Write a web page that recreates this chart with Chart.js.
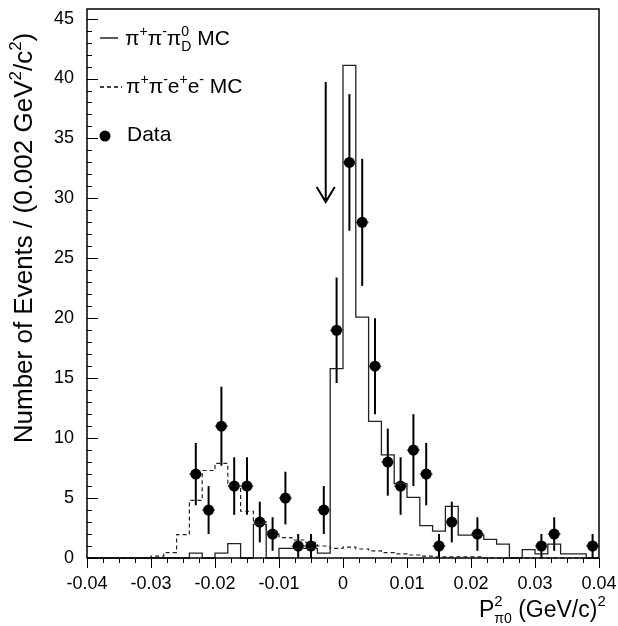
<!DOCTYPE html>
<html>
<head>
<meta charset="utf-8">
<script src="https://cdn.jsdelivr.net/npm/chart.js@4.4.0/dist/chart.umd.min.js"></script>
<style>
  html, body { margin: 0; padding: 0; background: #fff; }
  canvas { display: block; }
</style>
</head>
<body>
<canvas id="chart" width="618" height="626"></canvas>
<script>
/* ============================================================
   DATA
============================================================ */
const xMin = -0.04;
const xMax = 0.04;
const binWidth = 0.002;

// pi+ pi- pi0_D MC (solid), 40 bins of 0.002 starting at -0.04
const mcDalitz = [
  0, 0, 0, 0, 0, 0, 0, 0, 0.4, 0,
  0.4, 1.2, 0, 2.8, 0, 0.8, 0.8, 0.8, 0.4, 15.8,
  41.1, 20.1, 11.4, 8.6, 6.2, 5.05, 2.7, 2.25, 4.3, 1.9,
  1.9, 1.55, 1.15, 0, 0.7, 0.35, 1.15, 0.35, 0.35, 0,
];

// pi+ pi- e+ e- MC (dashed)
const mcEE = [
  0, 0, 0, 0, 0, 0.15, 0.45, 1.95, 4.8, 7.3,
  7.9, 6.0, 3.9, 3.0, 2.2, 1.7, 1.5, 1.3, 1.0, 0.8,
  0.9, 0.75, 0.6, 0.45, 0.35, 0.25, 0.15, 0.1, 0.1, 0.1,
  0.1, 0, 0, 0, 0, 0, 0, 0, 0, 0,
];

// data points
const dataX = [
  -0.023, -0.021, -0.019, -0.017, -0.015, -0.013, -0.011, -0.009, -0.007, -0.005,
  -0.003, -0.001, 0.001, 0.003, 0.005, 0.007, 0.009, 0.011, 0.013, 0.015,
  0.017, 0.021, 0.031, 0.033, 0.039,
];
const dataY = [7, 4, 11, 6, 6, 3, 2, 5, 1, 1, 4, 19, 33, 28, 16, 8, 6, 9, 7, 1, 3, 2, 1, 2, 1];
const dataErr = [
  2.6, 2.0, 3.3, 2.4, 2.4, 1.7, 1.4, 2.2, 1.0, 1.0,
  2.0, 4.4, 5.7, 5.3, 4.0, 2.8, 2.4, 3.0, 2.6, 1.0,
  1.7, 1.4, 1.0, 1.4, 1.0,
];

// cut arrow
const arrowX = -0.0027;
const arrowTop = 39.7;
const arrowTip = 29.7;

const yMax = 45.8;
const FONT = '"Liberation Sans", Arial, Helvetica, sans-serif';

/* ============================================================
   HELPERS
============================================================ */
const histPoints = (vals) => {
  const pts = vals.map((v, i) => ({ x: xMin + i * binWidth, y: v }));
  pts.push({ x: xMin + vals.length * binWidth, y: vals[vals.length - 1] });
  return pts;
};

// text pieces: {t, s (size), dy, keep (stacked with next piece)}
function richWidth(ctx, parts) {
  let w = 0, held = 0;
  parts.forEach((p) => {
    ctx.font = `${p.s}px ${FONT}`;
    const pw = ctx.measureText(p.t).width;
    if (p.keep) { held = Math.max(held, pw); return; }
    w += Math.max(pw, held);
    held = 0;
  });
  return w + held;
}
function drawRich(ctx, x, y, parts) {
  let held = 0;
  parts.forEach((p) => {
    ctx.font = `${p.s}px ${FONT}`;
    ctx.fillText(p.t, x, y + (p.dy || 0));
    const pw = ctx.measureText(p.t).width;
    if (p.keep) { held = Math.max(held, pw); return; }
    x += Math.max(pw, held);
    held = 0;
  });
}

/* ============================================================
   PLUGIN: frame, ticks, error bars, arrow, legend, titles
============================================================ */
const decorations = {
  id: "decorations",
  beforeDatasetsDraw(chart) {
    const { ctx, scales: { x, y } } = chart;
    ctx.save();
    ctx.strokeStyle = "#000";
    dataX.forEach((vx, i) => {
      const px = x.getPixelForValue(vx);
      ctx.lineWidth = 2;
      ctx.beginPath();
      ctx.moveTo(px, y.getPixelForValue(Math.max(0, dataY[i] - dataErr[i])));
      ctx.lineTo(px, y.getPixelForValue(dataY[i] + dataErr[i]));
      ctx.stroke();
      ctx.lineWidth = 1;
      ctx.beginPath();
      ctx.moveTo(x.getPixelForValue(vx - binWidth / 2), y.getPixelForValue(dataY[i]));
      ctx.lineTo(x.getPixelForValue(vx + binWidth / 2), y.getPixelForValue(dataY[i]));
      ctx.stroke();
    });
    ctx.restore();
  },
  afterDraw(chart) {
    const { ctx, chartArea: a, scales: { x, y } } = chart;
    ctx.save();
    ctx.strokeStyle = "#000";
    ctx.fillStyle = "#000";

    // frame
    ctx.lineWidth = 1.5;
    ctx.strokeRect(a.left, a.top, a.right - a.left, a.bottom - a.top);

    // x ticks (hanging below the axis)
    ctx.lineWidth = 1;
    for (let k = 0; k <= 32; k++) {
      const v = xMin + k * 0.0025;
      const px = Math.round(x.getPixelForValue(v)) + 0.5;
      const len = k % 4 === 0 ? 10 : 5;
      ctx.beginPath();
      ctx.moveTo(px, a.bottom);
      ctx.lineTo(px, a.bottom + len);
      ctx.stroke();
    }
    // y ticks (pointing inward)
    for (let v = 0; v <= 45; v++) {
      const py = Math.round(y.getPixelForValue(v)) + 0.5;
      const len = v % 5 === 0 ? 11 : 5;
      ctx.beginPath();
      ctx.moveTo(a.left, py);
      ctx.lineTo(a.left + len, py);
      ctx.stroke();
    }

    // arrow
    const ax = x.getPixelForValue(arrowX);
    const ay0 = y.getPixelForValue(arrowTop);
    const ay1 = y.getPixelForValue(arrowTip);
    ctx.lineWidth = 2;
    ctx.beginPath();
    ctx.moveTo(ax, ay0);
    ctx.lineTo(ax, ay1);
    ctx.moveTo(ax - 9, ay1 - 15);
    ctx.lineTo(ax, ay1);
    ctx.lineTo(ax + 9, ay1 - 15);
    ctx.stroke();

    // legend
    ctx.textAlign = "left";
    ctx.textBaseline = "alphabetic";
    ctx.lineWidth = 1.3;
    ctx.beginPath();
    ctx.moveTo(100, 38);
    ctx.lineTo(118, 38);
    ctx.stroke();
    drawRich(ctx, 125, 45, [
      { t: "π", s: 21 }, { t: "+", s: 14, dy: -9 },
      { t: "π", s: 21 }, { t: "-", s: 14, dy: -9 },
      { t: "π", s: 21 }, { t: "0", s: 14, dy: -9, keep: true }, { t: "D", s: 14, dy: 6 },
      { t: " MC", s: 21 },
    ]);

    ctx.setLineDash([4, 3]);
    ctx.beginPath();
    ctx.moveTo(100, 87);
    ctx.lineTo(122, 87);
    ctx.stroke();
    ctx.setLineDash([]);
    drawRich(ctx, 126, 93, [
      { t: "π", s: 21 }, { t: "+", s: 14, dy: -9 },
      { t: "π", s: 21 }, { t: "-", s: 14, dy: -9 },
      { t: "e", s: 21 }, { t: "+", s: 14, dy: -9 },
      { t: "e", s: 21 }, { t: "-", s: 14, dy: -9 },
      { t: " MC", s: 21 },
    ]);

    ctx.beginPath();
    ctx.arc(105, 136, 5.5, 0, Math.PI * 2);
    ctx.fill();
    drawRich(ctx, 127, 141, [{ t: "Data", s: 21 }]);

    // x title
    drawRich(ctx, 479, 617, [
      { t: "P", s: 23 }, { t: "2", s: 15, dy: -11, keep: true }, { t: "π0", s: 14, dy: 6 },
      { t: " (GeV/c)", s: 23 }, { t: "2", s: 15, dy: -11 },
    ]);

    // y title
    const yParts = [
      { t: "Number of Events / (0.002 GeV", s: 26 }, { t: "2", s: 17, dy: -11 },
      { t: "/c", s: 26 }, { t: "2", s: 17, dy: -11 }, { t: ")", s: 26 },
    ];
    const w = richWidth(ctx, yParts);
    ctx.translate(32, 238);
    ctx.rotate(-Math.PI / 2);
    drawRich(ctx, -w / 2, 0, yParts);

    ctx.restore();
  },
};

/* ============================================================
   CHART
============================================================ */
const tickFont = { family: FONT, size: 18 };

new Chart(document.getElementById("chart"), {
  type: "scatter",
  data: {
    datasets: [
      {
        type: "line",
        label: "pi+ pi- e+ e- MC",
        data: histPoints(mcEE),
        stepped: "before",
        borderColor: "#222",
        borderWidth: 1.2,
        borderDash: [4, 3],
        pointRadius: 0,
        fill: false,
        clip: false,
      },
      {
        type: "line",
        label: "pi+ pi- pi0_D MC",
        data: histPoints(mcDalitz),
        stepped: "before",
        borderColor: "#222",
        borderWidth: 1.3,
        pointRadius: 0,
        fill: false,
        clip: false,
      },
      {
        label: "Data",
        data: dataX.map((vx, i) => ({ x: vx, y: dataY[i] })),
        pointRadius: 5.5,
        pointBackgroundColor: "#000",
        pointBorderWidth: 0,
        clip: false,
      },
    ],
  },
  options: {
    responsive: false,
    animation: false,
    devicePixelRatio: 1,
    layout: { padding: { left: 0, top: 9, right: 19, bottom: 0 } },
    plugins: {
      legend: { display: false },
      tooltip: { enabled: false },
    },
    scales: {
      x: {
        type: "linear",
        min: xMin,
        max: xMax,
        grid: { display: false, drawTicks: false },
        border: { display: false },
        ticks: {
          stepSize: 0.01,
          includeBounds: false,
          padding: 15,
          color: "#000",
          font: tickFont,
          maxRotation: 0,
          autoSkip: false,
          callback: (v) => (Math.abs(v) < 1e-9 ? "0" : String(+v.toFixed(2))),
        },
        afterFit: (s) => {
          s.height = 68;
          s.paddingLeft = 0;
          s.paddingRight = 0;
        },
      },
      y: {
        type: "linear",
        min: 0,
        max: yMax,
        grid: { display: false, drawTicks: false },
        border: { display: false },
        ticks: {
          stepSize: 5,
          includeBounds: false,
          padding: 13,
          color: "#000",
          font: tickFont,
        },
        afterFit: (s) => {
          s.width = 87;
          s.paddingTop = 0;
          s.paddingBottom = 0;
        },
      },
    },
  },
  plugins: [decorations],
});
</script>
</body>
</html>
